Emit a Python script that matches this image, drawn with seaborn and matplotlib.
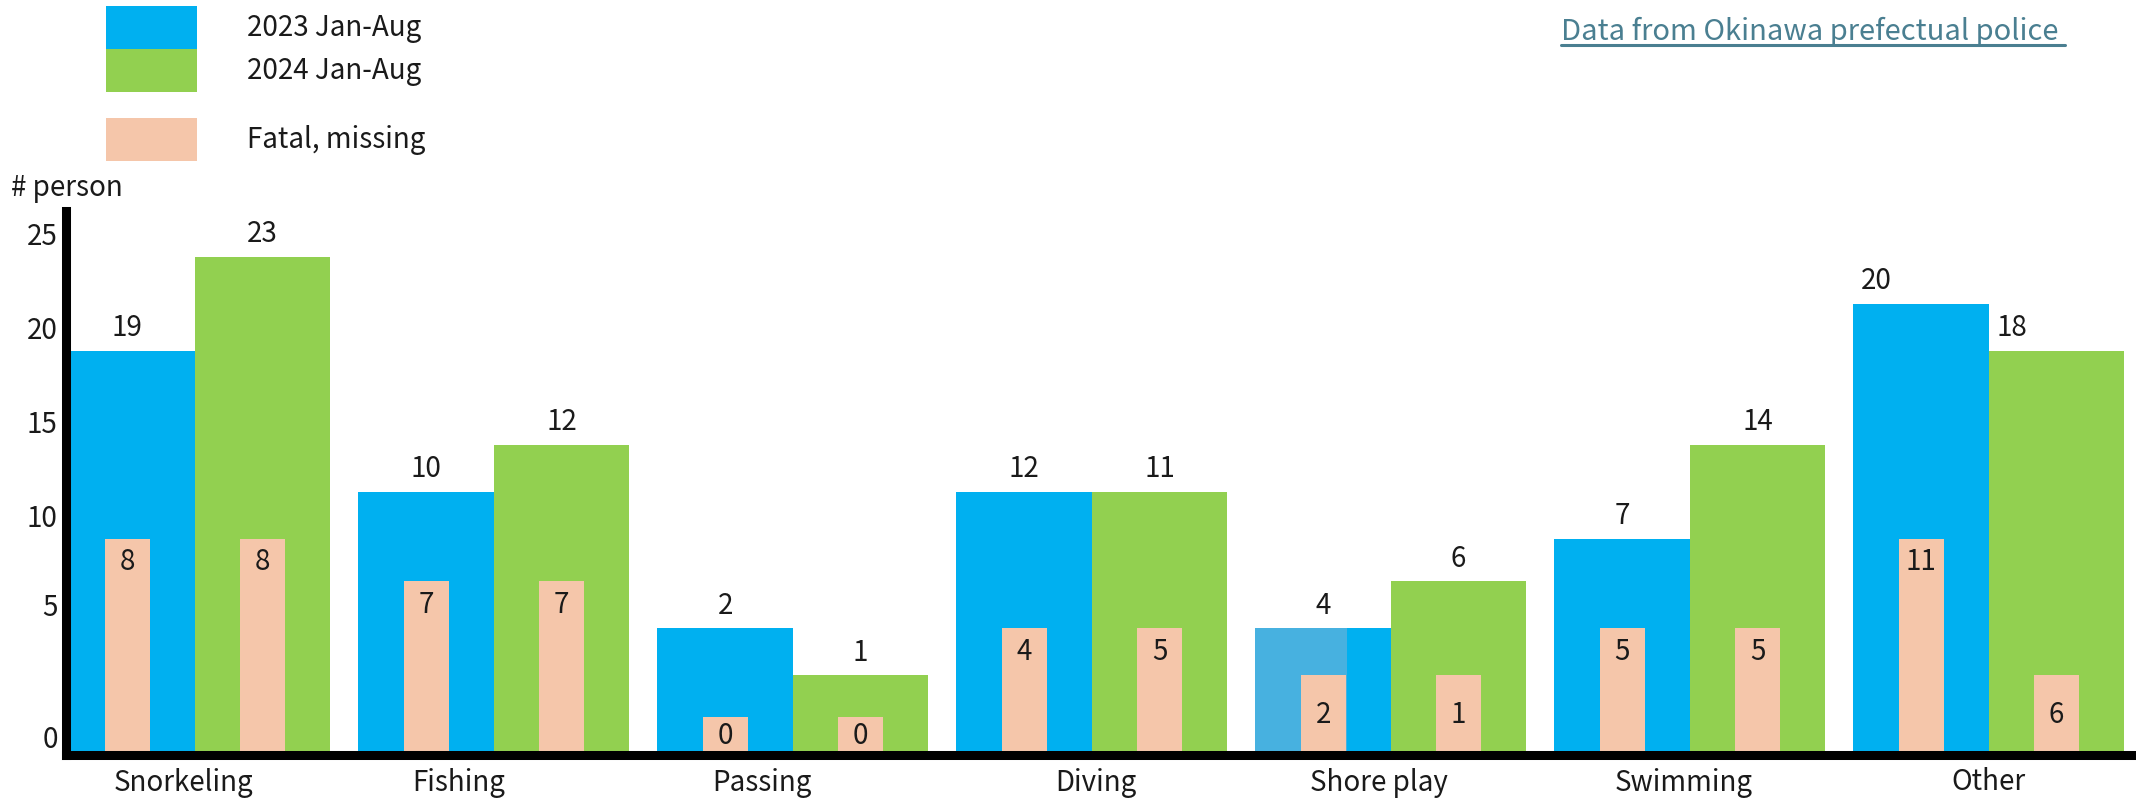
import matplotlib
matplotlib.use('Agg')
import matplotlib.pyplot as plt
import matplotlib.transforms as mtransforms
from matplotlib.patches import Patch
from matplotlib.lines import Line2D
import pandas as pd
import seaborn as sns

categories = ['Snorkeling', 'Fishing', 'Passing', 'Diving', 'Shore play', 'Swimming', 'Other']
periods = ['2023 Jan-Aug', '2024 Jan-Aug']

# numbers printed on the chart
total_2023 = [19, 10, 2, 12, 4, 7, 20]
total_2024 = [23, 12, 1, 11, 6, 14, 18]
fatal_2023 = [8, 7, 0, 4, 2, 5, 11]
fatal_2024 = [8, 7, 0, 5, 1, 5, 6]

# bar heights as drawn in the original (its y scale is not linear, so these are in grid rows)
drawn_2023 = [8.6, 5.6, 2.7, 5.6, 2.7, 4.6, 9.6]
drawn_2024 = [10.6, 6.6, 1.7, 5.6, 3.7, 6.6, 8.6]
drawn_fatal_2023 = [4.6, 3.7, 0.8, 2.7, 1.7, 2.7, 4.6]
drawn_fatal_2024 = [4.6, 3.7, 0.8, 2.7, 1.7, 2.7, 1.7]

# y tick labels and the rows where they sit
ytick_labels = ['0', '5', '10', '15', '20', '25']
ytick_rows = [0.4, 3.2, 5.1, 7.1, 9.1, 11.1]

BLUE = '#00b0f0'
GREEN = '#92d050'
PINK = '#f5c6aa'
LIGHT_BLUE = '#47b1e0'
SOURCE = '#4a7f91'
TEXT = '#1a1a1a'

sns.set_style('white')
plt.rcParams['font.family'] = ['Noto Sans CJK JP', 'DejaVu Sans']
plt.rcParams['text.color'] = TEXT
FS = 20

totals = pd.DataFrame({
    'activity': categories * 2,
    'period': [p for p in periods for _ in categories],
    'drawn': drawn_2023 + drawn_2024,
})
fatal = pd.DataFrame({
    'activity': categories * 2,
    'period': [p for p in periods for _ in categories],
    'drawn': drawn_fatal_2023 + drawn_fatal_2024,
})

W, H = 2136, 800
fig = plt.figure(figsize=(W / 100, H / 100), dpi=100)
ax = fig.add_axes([66 / W, 45 / H, 1 - 66 / W, 544 / H])

sns.barplot(data=totals, x='activity', y='drawn', hue='period', palette=[BLUE, GREEN],
            width=0.906, gap=0, saturation=1, errorbar=None, legend=False, ax=ax,
            linewidth=0, edgecolor='none')
bars_2023, bars_2024 = ax.containers[0], ax.containers[1]

# the original has a lighter patch on the left of the Shore play 2023 bar
sb = bars_2023[4]
ax.bar(sb.get_x(), sb.get_height(), width=0.306, align='edge', color=LIGHT_BLUE, linewidth=0)

sns.barplot(data=fatal, x='activity', y='drawn', hue='period', palette=[PINK, PINK],
            width=0.906, gap=0.668, saturation=1, errorbar=None, legend=False, ax=ax,
            linewidth=0, edgecolor='none')
fat_2023, fat_2024 = ax.containers[-2], ax.containers[-1]

ax.set_xlim(-0.431, 6.492)
ax.set_ylim(0, 11.57)
ax.set_xlabel('')
ax.set_ylabel('')

# value labels above the bars
label_shift = [0, 0, 0, 0, 0, 0, -32]
for cont, labels in [(bars_2023, total_2023), (bars_2024, total_2024)]:
    for i, (bar, lab) in enumerate(zip(cont, labels)):
        x = bar.get_x() + bar.get_width() / 2
        ax.annotate(str(lab), (x, bar.get_height()), xytext=(label_shift[i], 16),
                    textcoords='offset points', ha='center', va='center', fontsize=FS)

for cont, labels in [(fat_2023, fatal_2023), (fat_2024, fatal_2024)]:
    for bar, lab in zip(cont, labels):
        x = bar.get_x() + bar.get_width() / 2
        top = bar.get_height()
        y = top - 0.5 if top > 2 else top * 0.5
        ax.text(x, y, str(lab), ha='center', va='center', fontsize=FS)

for s in ['top', 'right']:
    ax.spines[s].set_visible(False)
for s in ['left', 'bottom']:
    ax.spines[s].set_linewidth(6.5)
    ax.spines[s].set_color('black')

ax.set_yticks(ytick_rows, ytick_labels)
ax.tick_params(axis='y', length=0, pad=6, labelsize=FS, labelcolor=TEXT)
ax.tick_params(axis='x', length=0, pad=9, labelsize=FS, labelcolor=TEXT)

xshift = [-11, -35, -31, 4, -12, -6, 0]
for lab, dx in zip(ax.get_xticklabels(), xshift):
    lab.set_transform(lab.get_transform() + mtransforms.ScaledTranslation(dx / 100, 0, fig.dpi_scale_trans))

# legend
leg_kw = dict(loc='upper left', frameon=False, borderpad=0, borderaxespad=0,
              handlelength=3.27, handleheight=2.0, handletextpad=1.8,
              labelspacing=0, fontsize=FS)
fig.legend([Patch(facecolor=BLUE, linewidth=0), Patch(facecolor=GREEN, linewidth=0)], periods,
           bbox_to_anchor=(106 / W, 1 - 6 / H), **leg_kw)
fig.legend([Patch(facecolor=PINK, linewidth=0)], ['Fatal, missing'],
           bbox_to_anchor=(106 / W, 1 - 118 / H), **leg_kw)

fig.text(11 / W, 1 - 188 / H, '# person', ha='left', va='center', fontsize=FS)

src = fig.text(1561 / W, 1 - 32 / H, 'Data from Okinawa prefectual police ', ha='left', va='center',
               fontsize=21, color=SOURCE)
fig.canvas.draw()
bb = src.get_window_extent()
fig.add_artist(Line2D([bb.x0 / W, bb.x1 / W], [(bb.y0 + 2) / H] * 2, color=SOURCE, linewidth=2.2))

fig.savefig('out.png', dpi=100)
